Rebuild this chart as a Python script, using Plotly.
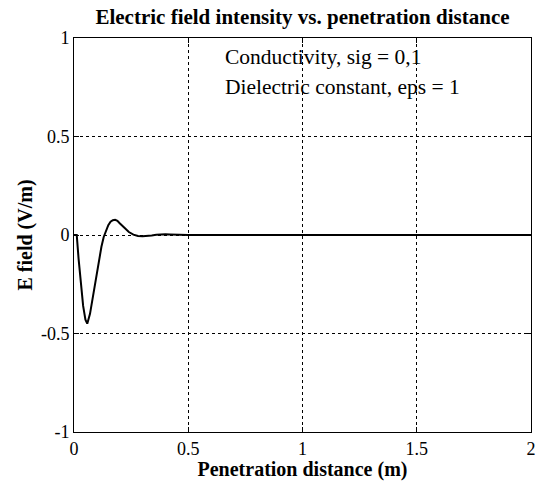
import plotly.graph_objects as go

# Penetration distance (m) and E field (V/m)
distance = [0.0, 0.012, 0.02, 0.03, 0.04, 0.05, 0.058, 0.07, 0.08, 0.09, 0.10, 0.11, 0.12, 0.13,
            0.14, 0.15, 0.16, 0.17, 0.18, 0.19, 0.20, 0.22, 0.24, 0.26, 0.28, 0.30, 0.32,
            0.34, 0.36, 0.38, 0.40, 0.42, 0.45, 0.50, 0.75, 1.0, 1.25, 1.5, 1.75, 2.0]
efield = [0.0, 0.0, -0.12, -0.25, -0.36, -0.43, -0.45, -0.40, -0.33, -0.26, -0.19, -0.12, -0.06, -0.01,
          0.025, 0.05, 0.067, 0.075, 0.077, 0.072, 0.06, 0.035, 0.015, 0.002, -0.005, -0.006, -0.005,
          -0.002, 0.001, 0.003, 0.004, 0.003, 0.001, 0.0, 0.0, 0.0, 0.0, 0.0, 0.0, 0.0]

x_ticks = [0, 0.5, 1, 1.5, 2]
x_tick_labels = ["0", "0.5", "1", "1.5", "2"]
y_ticks = [-1, -0.5, 0, 0.5, 1]
y_tick_labels = ["-1", "-0.5", "0", "0.5", "1"]

notes = ["Conductivity, sig = 0,1", "Dielectric constant, eps = 1"]

serif = "Liberation Serif"

fig = go.Figure()
fig.add_trace(go.Scatter(x=distance, y=efield, mode="lines",
                         line=dict(color="black", width=2), showlegend=False))

axis_common = dict(
    showline=True, linecolor="black", linewidth=1, mirror="allticks",
    ticks="inside", ticklen=5, tickcolor="black",
    showgrid=True, gridcolor="black", gridwidth=1, griddash="3px,3px",
    zeroline=False, automargin=False,
    tickfont=dict(family=serif, size=18, color="black"),
)

fig.update_xaxes(range=[0, 2], tickvals=x_ticks, ticktext=x_tick_labels,
                 title=dict(text="<b>Penetration distance (m)</b>",
                            font=dict(family=serif, size=20, color="black"), standoff=5),
                 **axis_common)
fig.update_yaxes(range=[-1, 1], tickvals=y_ticks, ticktext=y_tick_labels,
                 title=dict(text="<b>E field (V/m)</b>",
                            font=dict(family=serif, size=20, color="black"), standoff=2),
                 **axis_common)

fig.add_annotation(x=0.65, y=0.905, xref="x", yref="y", text=notes[0], showarrow=False,
                   xanchor="left", yanchor="middle",
                   font=dict(family=serif, size=21.5, color="black"))
fig.add_annotation(x=0.65, y=0.752, xref="x", yref="y", text=notes[1], showarrow=False,
                   xanchor="left", yanchor="middle",
                   font=dict(family=serif, size=21.5, color="black"))

fig.update_layout(
    width=539, height=481,
    margin=dict(l=74, r=8, t=38, b=49),
    paper_bgcolor="white", plot_bgcolor="white",
    title=dict(text="<b>Electric field intensity vs. penetration distance</b>",
               font=dict(family=serif, size=21, color="black"),
               x=(74 + 531) / 2 / 539, xanchor="center", y=1 - 17 / 481, yanchor="middle"),
)

fig.write_html("out.html")
